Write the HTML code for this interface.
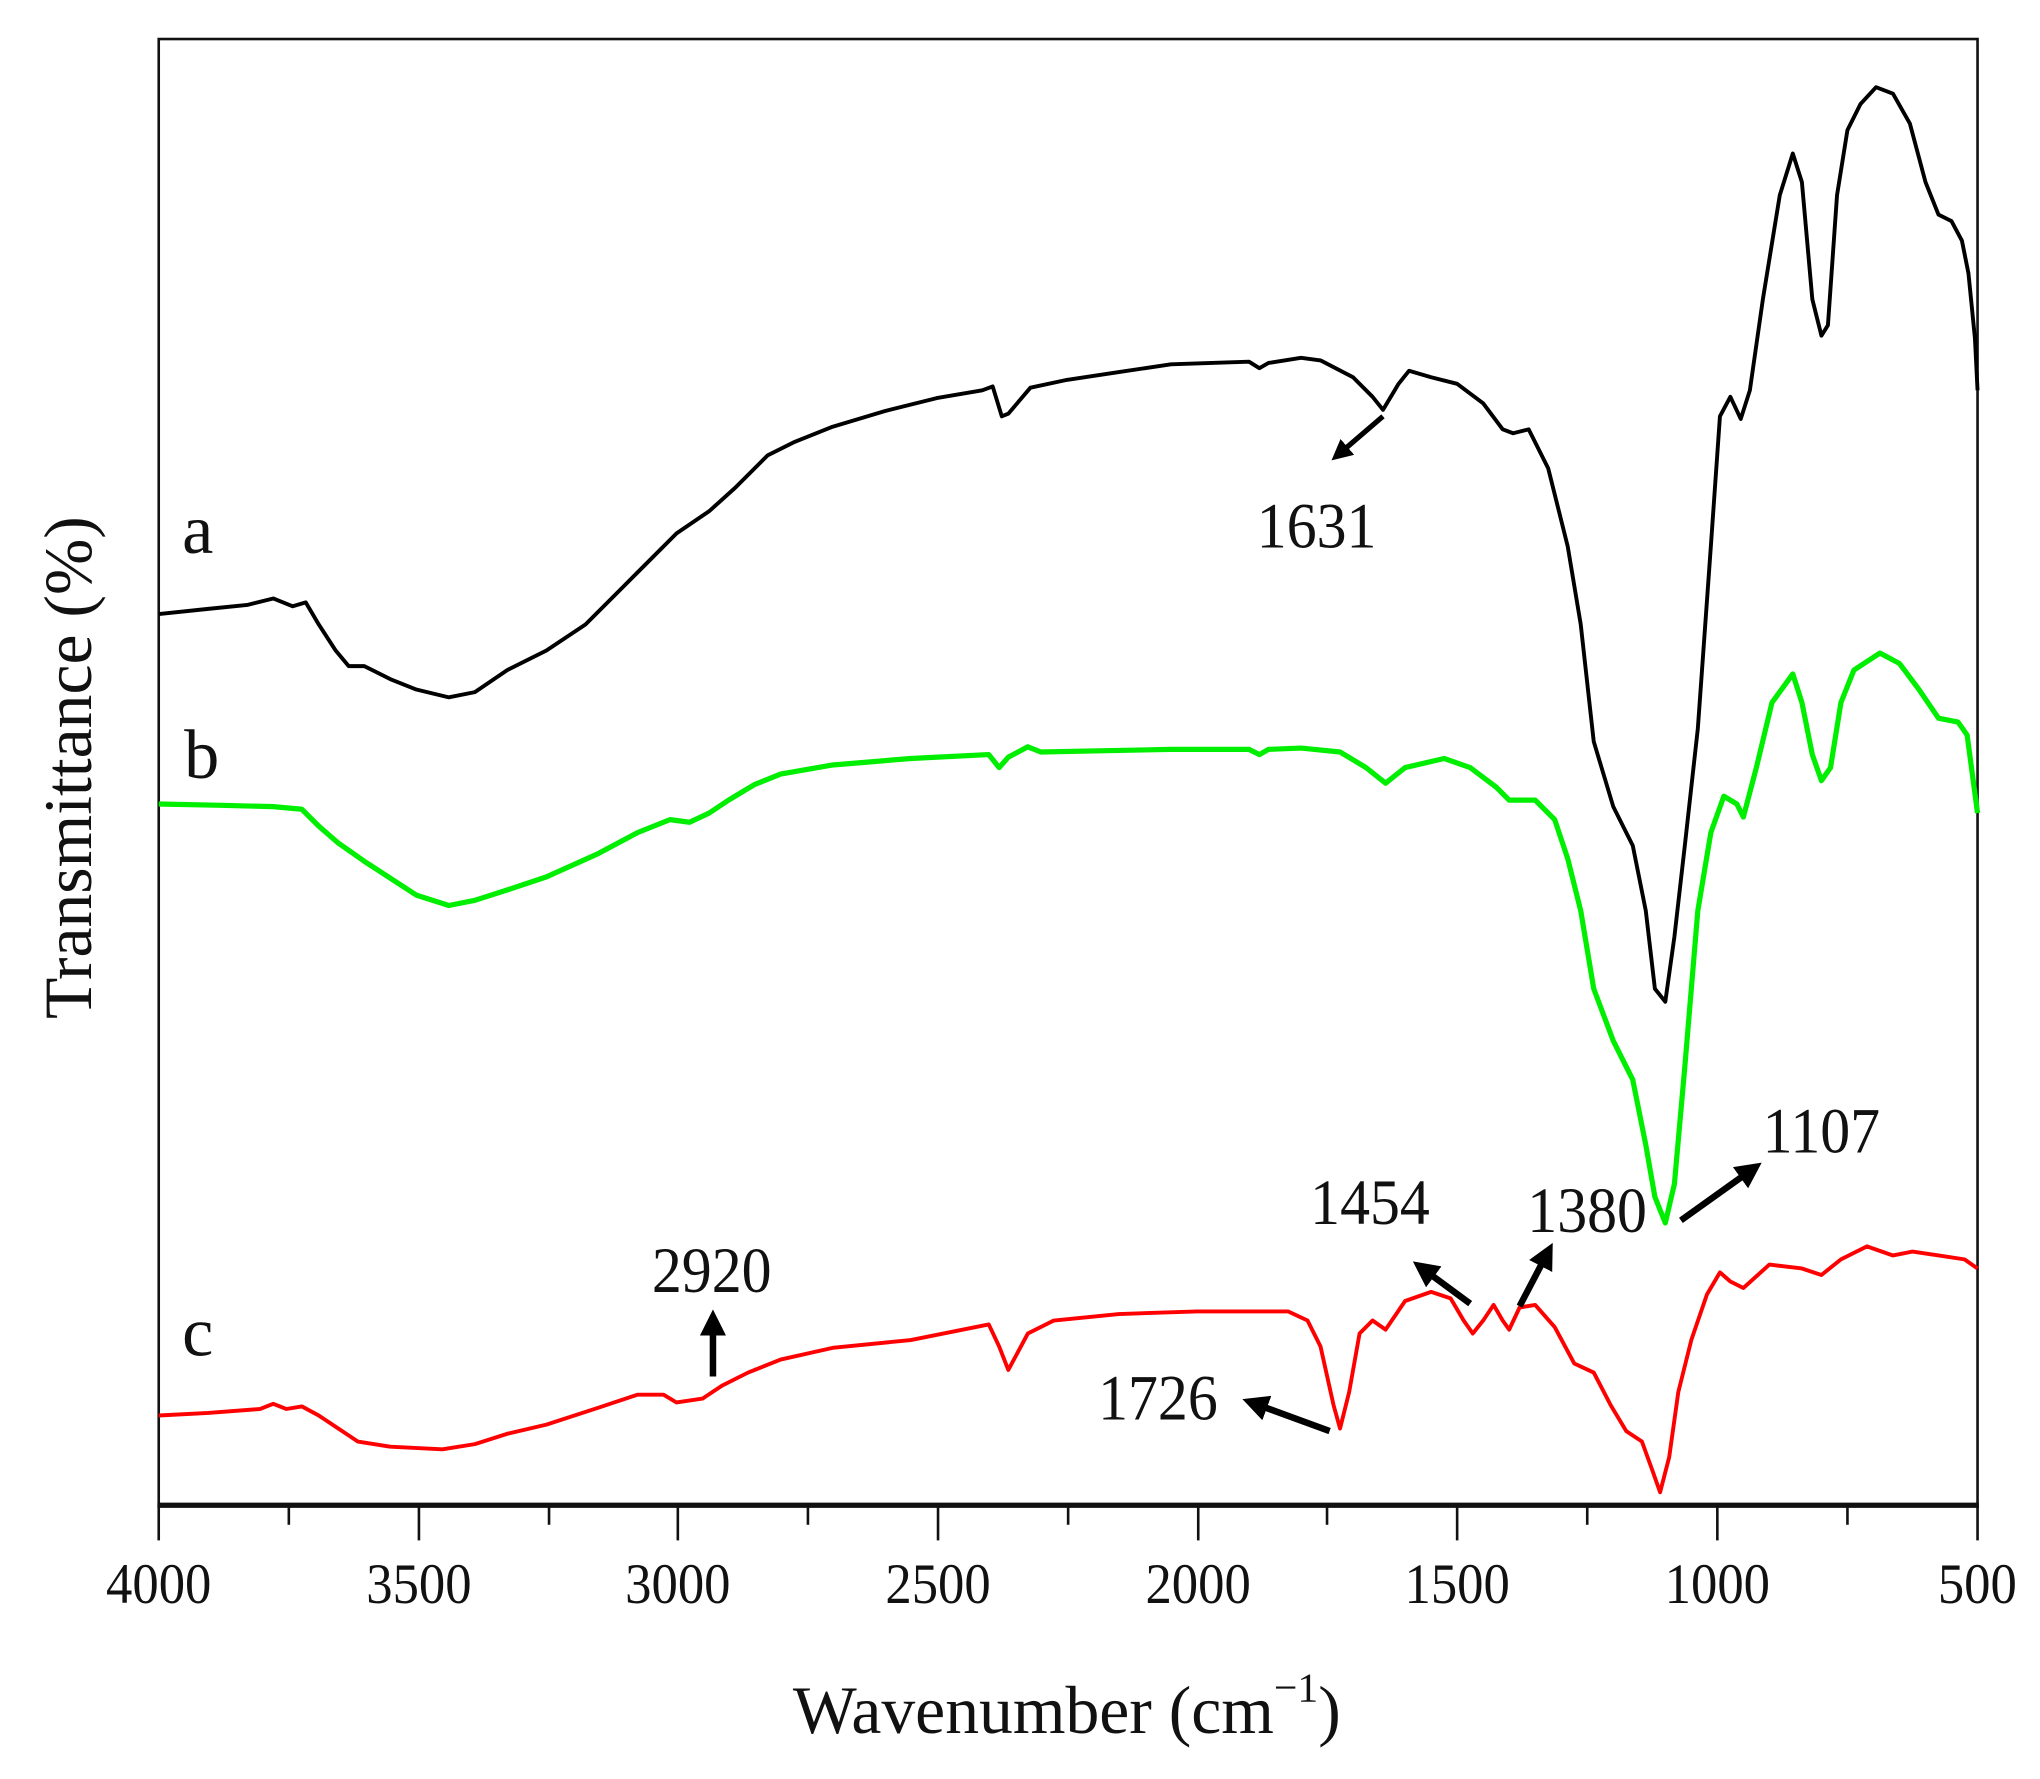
<!DOCTYPE html>
<html><head><meta charset="utf-8"><style>
html,body{margin:0;padding:0;background:#fff;}
svg{display:block;}
text{font-family:"Liberation Serif",serif;fill:#111;}
</style></head><body>
<svg width="2040" height="1779" viewBox="0 0 1568 1367.4" xmlns="http://www.w3.org/2000/svg">
<defs><marker id="ah" markerWidth="4" markerHeight="4" refX="2.5" refY="2" orient="auto" markerUnits="strokeWidth"><path d="M0,0 L4,2 L0,4 z" fill="#000"/></marker></defs>
<rect x="122" y="30" width="1398" height="1127" fill="none" stroke="#111" stroke-width="2"/>
<line x1="121" y1="1157" x2="1521" y2="1157" stroke="#111" stroke-width="4"/>
<g stroke="#111" stroke-width="2">
<line x1="122" y1="1157" x2="122" y2="1184"/><line x1="322" y1="1157" x2="322" y2="1184"/><line x1="521" y1="1157" x2="521" y2="1184"/><line x1="721" y1="1157" x2="721" y2="1184"/><line x1="921" y1="1157" x2="921" y2="1184"/><line x1="1120" y1="1157" x2="1120" y2="1184"/><line x1="1320" y1="1157" x2="1320" y2="1184"/><line x1="1520" y1="1157" x2="1520" y2="1184"/>
<line x1="222" y1="1157" x2="222" y2="1172"/><line x1="422" y1="1157" x2="422" y2="1172"/><line x1="621" y1="1157" x2="621" y2="1172"/><line x1="821" y1="1157" x2="821" y2="1172"/><line x1="1020" y1="1157" x2="1020" y2="1172"/><line x1="1220" y1="1157" x2="1220" y2="1172"/><line x1="1420" y1="1157" x2="1420" y2="1172"/>
</g>
<g font-size="44" text-anchor="middle" transform="scale(0.92,1)">
<text x="132.6" y="1232">4000</text><text x="350" y="1232">3500</text><text x="566.3" y="1232">3000</text><text x="783.7" y="1232">2500</text><text x="1001" y="1232">2000</text><text x="1217.4" y="1232">1500</text><text x="1434.8" y="1232">1000</text><text x="1652" y="1232">500</text>
</g>
<text x="820" y="1332" font-size="52" text-anchor="middle">Wavenumber (cm<tspan font-size="32" dy="-24">−1</tspan><tspan dy="24">)</tspan></text>
<text transform="translate(70,590) rotate(-90)" font-size="52" text-anchor="middle">Transmittance (%)</text>
<polyline fill="none" stroke="#000" stroke-width="3" stroke-linejoin="round" points="122,472 160,468 190,465 210,460 225,466 235,463 245,480 258,500 268,512 280,512 300,522 320,530 345,536 365,532 390,515 420,500 450,480 480,450 500,430 520,410 545,393 565,375 590,350 610,340 640,328 680,316 720,306 755,300 763,297 770,320 775,318 792,298 820,292 860,286 900,280 960,278 968,283 975,279 1000,275 1015,277 1040,290 1055,305 1063,315 1075,295 1083,285 1100,290 1120,295 1140,310 1155,330 1163,333 1175,330 1190,360 1205,420 1215,480 1225,570 1240,620 1255,650 1265,700 1272,760 1280,770 1287,720 1295,650 1305,560 1315,420 1322,320 1330,305 1338,322 1345,300 1355,230 1368,150 1378,118 1385,140 1393,230 1400,258 1405,250 1412,150 1420,100 1430,80 1442,67 1455,72 1468,95 1480,140 1490,165 1500,170 1508,185 1513,210 1518,260 1520,300"/>
<polyline fill="none" stroke="#00ee00" stroke-width="4" stroke-linejoin="round" points="122,618 170,619 210,620 232,622 245,635 260,648 280,662 300,675 320,688 345,696 365,692 390,684 420,674 460,656 490,640 515,630 530,632 545,625 560,615 580,603 600,595 640,588 700,583 760,580 768,590 775,582 790,574 800,578 850,577 900,576 960,576 968,580 975,576 1000,575 1030,578 1050,590 1065,602 1080,590 1110,583 1130,590 1150,605 1160,615 1180,615 1195,630 1205,660 1215,700 1225,760 1240,800 1255,830 1265,880 1272,920 1280,940 1287,910 1295,820 1305,700 1315,640 1325,612 1335,618 1340,628 1350,590 1362,540 1378,518 1385,540 1393,580 1400,600 1407,590 1415,540 1425,515 1445,502 1460,510 1475,530 1490,552 1505,555 1512,565 1520,625"/>
<polyline fill="none" stroke="#ff0000" stroke-width="3" stroke-linejoin="round" points="122,1088 160,1086 200,1083 210,1079 220,1083 232,1081 245,1088 260,1098 275,1108 300,1112 340,1114 365,1110 390,1102 420,1095 460,1082 490,1072 510,1072 520,1078 540,1075 555,1065 575,1055 600,1045 640,1036 700,1030 760,1018 768,1035 775,1053 782,1040 790,1025 810,1015 860,1010 920,1008 990,1008 1005,1015 1015,1035 1025,1080 1030,1098 1037,1070 1045,1025 1055,1015 1065,1022 1080,1000 1100,993 1115,998 1125,1015 1132,1025 1140,1015 1148,1003 1155,1015 1160,1022 1168,1005 1180,1003 1195,1020 1210,1048 1225,1055 1238,1080 1250,1100 1262,1108 1270,1130 1276,1147 1283,1120 1290,1070 1300,1030 1312,995 1322,978 1330,985 1340,990 1360,972 1385,975 1400,980 1415,968 1435,958 1455,965 1470,962 1490,965 1510,968 1520,975"/>
<g font-size="54" text-anchor="middle"><text x="152" y="425">a</text><text x="155" y="598">b</text><text x="152" y="1042">c</text></g>
<g font-size="50" text-anchor="middle" transform="scale(0.92,1)">
<text x="1100" y="421">1631</text><text x="594.6" y="993">2920</text><text x="967.4" y="1091">1726</text><text x="1144.6" y="941">1454</text><text x="1326" y="947">1380</text><text x="1521.7" y="886">1107</text>
</g>
<g stroke="#000" stroke-width="5" marker-end="url(#ah)">
<line x1="1063" y1="320" x2="1028" y2="350" stroke-width="4"/>
<line x1="548" y1="1058" x2="548" y2="1014"/>
<line x1="1022" y1="1100" x2="962" y2="1078"/>
<line x1="1130" y1="1002" x2="1092" y2="974"/>
<line x1="1168" y1="1004" x2="1190" y2="962"/>
<line x1="1292" y1="938" x2="1348" y2="898"/>
</g>
</svg>
</body></html>
